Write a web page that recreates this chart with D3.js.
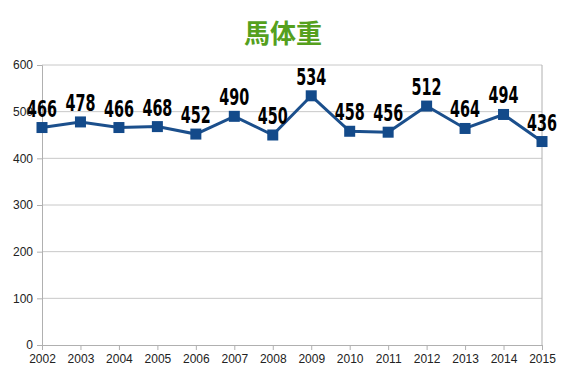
<!DOCTYPE html>
<html lang="ja">
<head>
<meta charset="UTF-8">
<title>馬体重</title>
<style>
  body { margin: 0; background: #fff; }
  .tick text { font-family: "Liberation Sans", Arial, sans-serif; font-size: 12px; fill: #222; }
  .lbl { font-family: "DejaVu Sans", sans-serif; font-stretch: condensed; font-weight: bold; font-size: 23px; fill: #000; }
</style>
</head>
<body>
<svg width="567" height="378"></svg>
<script src="https://d3js.org/d3.v7.min.js"></script>
<script>
const years = ["2002","2003","2004","2005","2006","2007","2008","2009","2010","2011","2012","2013","2014","2015"];
const weights = [466, 478, 466, 468, 452, 490, 450, 534, 458, 456, 512, 464, 494, 436];
const yTicks = [0, 100, 200, 300, 400, 500, 600];

const svg = d3.select("svg");
const plotL = 42, plotR = 542, plotT = 65, plotB = 345;

const x = d3.scalePoint().domain(years).range([plotL, plotR]);
const y = d3.scaleLinear().domain([0, 600]).range([plotB, plotT]);

svg.append("text")
    .attr("x", 283).attr("y", 43)
    .attr("text-anchor", "middle")
    .style("font-family", "'Noto Sans CJK JP', sans-serif")
    .style("font-weight", "bold")
    .style("font-size", "26px")
    .style("fill", "#55a01d")
    .text("馬体重");

// gridlines
svg.append("g").selectAll("line").data(yTicks.filter(d => d > 0)).enter().append("line")
    .attr("x1", plotL).attr("x2", plotR)
    .attr("y1", d => y(d)).attr("y2", d => y(d))
    .attr("stroke", "#c8c8c8").attr("stroke-width", 1);

// right border
svg.append("line")
    .attr("x1", plotR).attr("x2", plotR).attr("y1", plotT).attr("y2", plotB)
    .attr("stroke", "#b0b0b0");

const yAxis = svg.append("g")
    .attr("transform", `translate(${plotL},0)`)
    .call(d3.axisLeft(y).tickValues(yTicks).tickSize(5).tickPadding(4));
yAxis.select(".domain").attr("stroke", "#b0b0b0");
yAxis.selectAll(".tick line").attr("stroke", "#b0b0b0");

const xAxis = svg.append("g")
    .attr("transform", `translate(0,${plotB})`)
    .call(d3.axisBottom(x).tickSize(5).tickPadding(4));
xAxis.select(".domain").attr("stroke", "#b0b0b0");
xAxis.selectAll(".tick line").attr("stroke", "#b0b0b0");

const data = years.map((yr, i) => ({ yr, v: weights[i] }));

svg.append("path")
    .datum(data)
    .attr("fill", "none")
    .attr("stroke", "#1b4f8c")
    .attr("stroke-width", 3)
    .attr("d", d3.line().x(d => x(d.yr)).y(d => y(d.v)));

svg.append("g").selectAll("rect").data(data).enter().append("rect")
    .attr("x", d => x(d.yr) - 5.5)
    .attr("y", d => y(d.v) - 5.5)
    .attr("width", 11).attr("height", 11)
    .attr("fill", "#134a8a");

svg.append("g").selectAll("text").data(data).enter().append("text")
    .attr("class", "lbl")
    .attr("x", d => x(d.yr))
    .attr("y", d => y(d.v) - 11)
    .attr("text-anchor", "middle")
    .attr("textLength", 30)
    .attr("lengthAdjust", "spacingAndGlyphs")
    .text(d => d.v);
</script>
</body>
</html>
